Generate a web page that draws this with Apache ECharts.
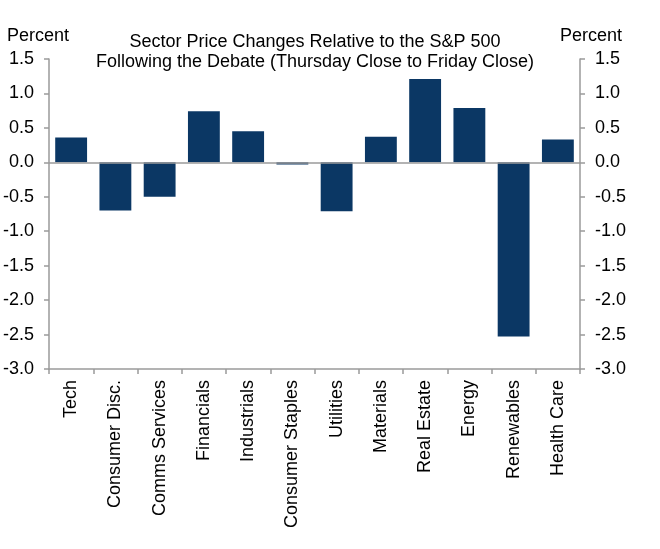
<!DOCTYPE html>
<html>
<head>
<meta charset="utf-8">
<script src="https://cdn.jsdelivr.net/npm/echarts@6/dist/echarts.min.js"></script>
<style>html,body{margin:0;padding:0;background:#fff}#c{width:660px;height:549px}</style>
</head>
<body>
<div id="c"></div>
<script>
const categories = ["Tech","Consumer Disc.","Comms Services","Financials","Industrials","Consumer Staples","Utilities","Materials","Real Estate","Energy","Renewables","Health Care"];
const values = [0.36,-0.70,-0.50,0.74,0.45,-0.03,-0.71,0.37,1.21,0.79,-2.53,0.33];
const yMin = -3.0, yMax = 1.5, yStep = 0.5;
const titleText = "Sector Price Changes Relative to the S&P 500\nFollowing the Debate (Thursday Close to Friday Close)";
const unitLabel = "Percent";

const font = "Liberation Sans, Arial, sans-serif";
const axisGray = "#9a9a9a";
const fs = 18;
const chart = echarts.init(document.getElementById('c'), null, {renderer:'canvas'});
const yAxisCommon = {
  type:'value', min:yMin, max:yMax, interval:yStep,
  axisLine:{show:true, lineStyle:{color:axisGray, width:1.5}},
  axisTick:{show:true, length:5, lineStyle:{color:axisGray, width:1.5}},
  splitLine:{show:false},
  axisLabel:{color:'#000', fontSize:fs, fontFamily:font, margin:15, formatter:v=>v.toFixed(1)}
};
chart.setOption({
  animation:false,
  backgroundColor:'#fff',
  title:[
    {text:titleText, left:310, top:27, textAlign:'center',
     textStyle:{fontSize:fs, fontWeight:'normal', color:'#000', fontFamily:font, lineHeight:20}},
    {text:unitLabel, left:2, top:22, textStyle:{fontSize:fs, fontWeight:'normal', color:'#000', fontFamily:font}},
    {text:unitLabel, left:555, top:22, textStyle:{fontSize:fs, fontWeight:'normal', color:'#000', fontFamily:font}}
  ],
  grid:{left:48, right:80, top:59, bottom:180, containLabel:false},
  xAxis:{
    type:'category', data:categories,
    axisLine:{show:true, onZero:false, lineStyle:{color:axisGray, width:1.5}},
    axisTick:{show:true, length:5, lineStyle:{color:axisGray, width:1.5}},
    axisLabel:{rotate:90, color:'#000', fontSize:fs, fontFamily:font, margin:11, interval:0}
  },
  yAxis:[
    Object.assign({position:'left'}, yAxisCommon),
    Object.assign({position:'right'}, yAxisCommon)
  ],
  series:[{
    type:'bar', data:values, yAxisIndex:0,
    barCategoryGap:'28%',
    itemStyle:{color:'#0b3764'},
    markLine:{silent:true, symbol:['none','none'], label:{show:false},
      lineStyle:{color:axisGray, type:'solid', width:1.5},
      data:[{yAxis:0}]}
  }]
});
</script>
</body>
</html>
